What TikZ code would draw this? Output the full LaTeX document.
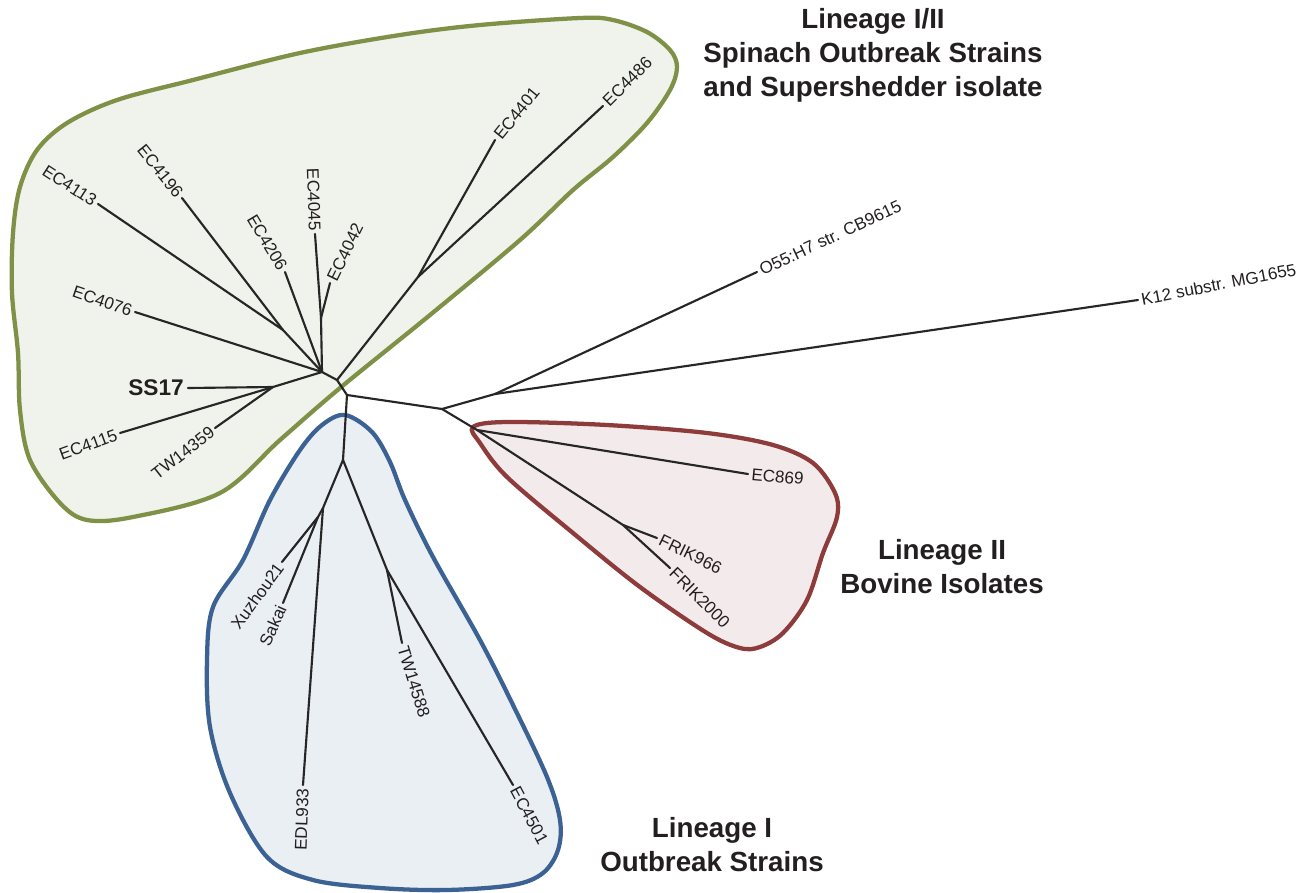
\documentclass[tikz,border=0pt]{standalone}
\usepackage{fontspec}
\setmainfont{Liberation Sans}
\definecolor{treecol}{HTML}{262626}
\definecolor{textcol}{HTML}{231F20}
\definecolor{greenline}{HTML}{7F9147}
\definecolor{greenfill}{HTML}{F0F3EC}
\definecolor{blueline}{HTML}{3B6293}
\definecolor{bluefill}{HTML}{EAEFF4}
\definecolor{redline}{HTML}{8E3B3B}
\definecolor{redfill}{HTML}{F3EAEB}
\begin{document}
\begin{tikzpicture}[x=0.75pt,y=-0.75pt,
  branch/.style={draw=treecol, line width=1.6pt, line cap=round},
  leaf/.style={font=\fontsize{12.8}{14}\selectfont, text=textcol, inner sep=2.5pt},
  leafbold/.style={font=\fontsize{17}{20}\selectfont\bfseries, text=textcol, inner sep=3pt},
  cladetitle/.style={font=\fontsize{20.8}{25.5}\selectfont\bfseries, text=textcol, align=center},
  clade/.style={line width=3.2pt, line join=round}]
\useasboundingbox (0,0) rectangle (1301,892);

% clade outlines
\draw[clade, draw=greenline, fill=greenfill] plot[smooth cycle, tension=0.55] coordinates {
 (12,293) (13,233) (20,187) (37,150) (67,123) (117,100) (193,80) (300,53) (400,35) (480,25)
 (580,18) (613,20) (647,32) (670,50) (677,67) (670,90) (647,123) (613,157) (573,190) (520,240)
 (430,315) (340,388) (280,440) (220,493) (133,517) (87,520) (60,503) (30,460) (20,410) (18,353)};
\draw[clade, draw=blueline, fill=bluefill] plot[smooth cycle, tension=0.55] coordinates {
 (345,415) (372,432) (390,462) (405,500) (433,557) (480,640) (513,705) (547,777) (560,820)
 (558,850) (543,873) (513,885) (447,890) (380,888) (313,880) (267,857) (230,793) (210,727)
 (207,660) (213,607) (243,560) (270,500) (300,450) (322,425)};
\draw[clade, draw=redline, fill=redfill] plot[smooth cycle, tension=0.55] coordinates {
 (473,427) (507,422) (607,425) (707,433) (773,445) (813,463) (835,493) (837,517) (823,553)
 (807,600) (783,633) (760,647) (740,648) (707,633) (640,587) (573,533) (507,477) (480,443)};

% internal nodes
\coordinate (root) at (347,395);
\coordinate (gA) at (337,380);
\coordinate (gB) at (322,372);
\coordinate (gSS) at (273,387);
\coordinate (g13) at (283,330);
\coordinate (g45) at (321,318);
\coordinate (gSup) at (418,277);
\coordinate (oA) at (442,409);
\coordinate (oB) at (495,394);
\coordinate (rA) at (477,430);
\coordinate (rF) at (623,525);
\coordinate (bA) at (343,460);
\coordinate (bX) at (323,508);
\coordinate (bXS) at (318,517);
\coordinate (bT) at (387,570);

% leaf ends
\coordinate (lEC4113) at (98,204);
\coordinate (lEC4196) at (182,198);
\coordinate (lEC4206) at (285,272);
\coordinate (lEC4045) at (315,234);
\coordinate (lEC4042) at (330,283);
\coordinate (lEC4076) at (135,312);
\coordinate (lSS17) at (188,388);
\coordinate (lEC4115) at (120,433);
\coordinate (lTW14359) at (215,428);
\coordinate (lEC4401) at (495,140);
\coordinate (lEC4486) at (603,106);
\coordinate (lO55) at (757,272);
\coordinate (lK12) at (1138,300);
\coordinate (lEC869) at (748,474);
\coordinate (lFRIK966) at (657,538);
\coordinate (lFRIK2000) at (670,568);
\coordinate (lXuzhou) at (282,562);
\coordinate (lSakai) at (283,603);
\coordinate (lEDL933) at (303,785);
\coordinate (lTW14588) at (402,643);
\coordinate (lEC4501) at (513,785);

% branches
\foreach \a/\b in {root/gA, gA/gB, gA/gSup, gSup/lEC4401, gSup/lEC4486,
  gB/gSS, gSS/lSS17, gSS/lEC4115, gSS/lTW14359, gB/lEC4076, gB/g13,
  g13/lEC4113, g13/lEC4196, gB/lEC4206, gB/g45, g45/lEC4045, g45/lEC4042,
  root/oA, oA/oB, oB/lO55, oB/lK12, oA/rA, rA/lEC869, rA/rF,
  rF/lFRIK966, rF/lFRIK2000, root/bA, bA/bX, bX/lEDL933, bX/bXS,
  bXS/lXuzhou, bXS/lSakai, bA/bT, bT/lTW14588, bT/lEC4501}
  \draw[branch] (\a) -- (\b);

% leaf labels
\node[leaf, rotate=-33, anchor=east] (tEC4113) at (lEC4113) {EC4113};
\node[leaf, rotate=-51, anchor=east] (tEC4196) at (lEC4196) {EC4196};
\node[leaf, rotate=-59, anchor=east] (tEC4206) at (lEC4206) {EC4206};
\node[leaf, rotate=-88, anchor=east] (tEC4045) at (lEC4045) {EC4045};
\node[leaf, rotate=64, anchor=west] (tEC4042) at (lEC4042) {EC4042};
\node[leaf, rotate=-19, anchor=east] (tEC4076) at (lEC4076) {EC4076};
\node[leafbold, anchor=east] (tSS17) at (lSS17) {SS17};
\node[leaf, rotate=20, anchor=east] (tEC4115) at (lEC4115) {EC4115};
\node[leaf, rotate=38, anchor=east] (tTW14359) at (lTW14359) {TW14359};
\node[leaf, rotate=51, anchor=west] (tEC4401) at (lEC4401) {EC4401};
\node[leaf, rotate=45, anchor=west] (tEC4486) at (lEC4486) {EC4486};
\node[leaf, rotate=25, anchor=west] (tO55) at (lO55) {O55:H7 str. CB9615};
\node[leaf, rotate=11, anchor=west] (tK12) at (lK12) {K12 substr. MG1655};
\node[leaf, rotate=-5, anchor=west] (tEC869) at (lEC869) {EC869};
\node[leaf, rotate=-26, anchor=west] (tFRIK966) at (lFRIK966) {FRIK966};
\node[leaf, rotate=-45, anchor=west] (tFRIK2000) at (lFRIK2000) {FRIK2000};
\node[leaf, rotate=54, anchor=east] (tXuzhou) at (lXuzhou) {Xuzhou21};
\node[leaf, rotate=66, anchor=east] (tSakai) at (lSakai) {Sakai};
\node[leaf, rotate=88, anchor=east] (tEDL933) at (lEDL933) {EDL933};
\node[leaf, rotate=-73, anchor=west] (tTW14588) at (lTW14588) {TW14588};
\node[leaf, rotate=-62, anchor=west] (tEC4501) at (lEC4501) {EC4501};

% clade titles
\node[cladetitle] (titleGreen) at (873,55) {Lineage I/II\\Spinach Outbreak Strains\\and Supershedder isolate};
\node[cladetitle] (titleRed) at (942,567) {Lineage II\\Bovine Isolates};
\node[cladetitle] (titleBlue) at (712,845) {Lineage I\\Outbreak Strains};
\end{tikzpicture}
\end{document}
